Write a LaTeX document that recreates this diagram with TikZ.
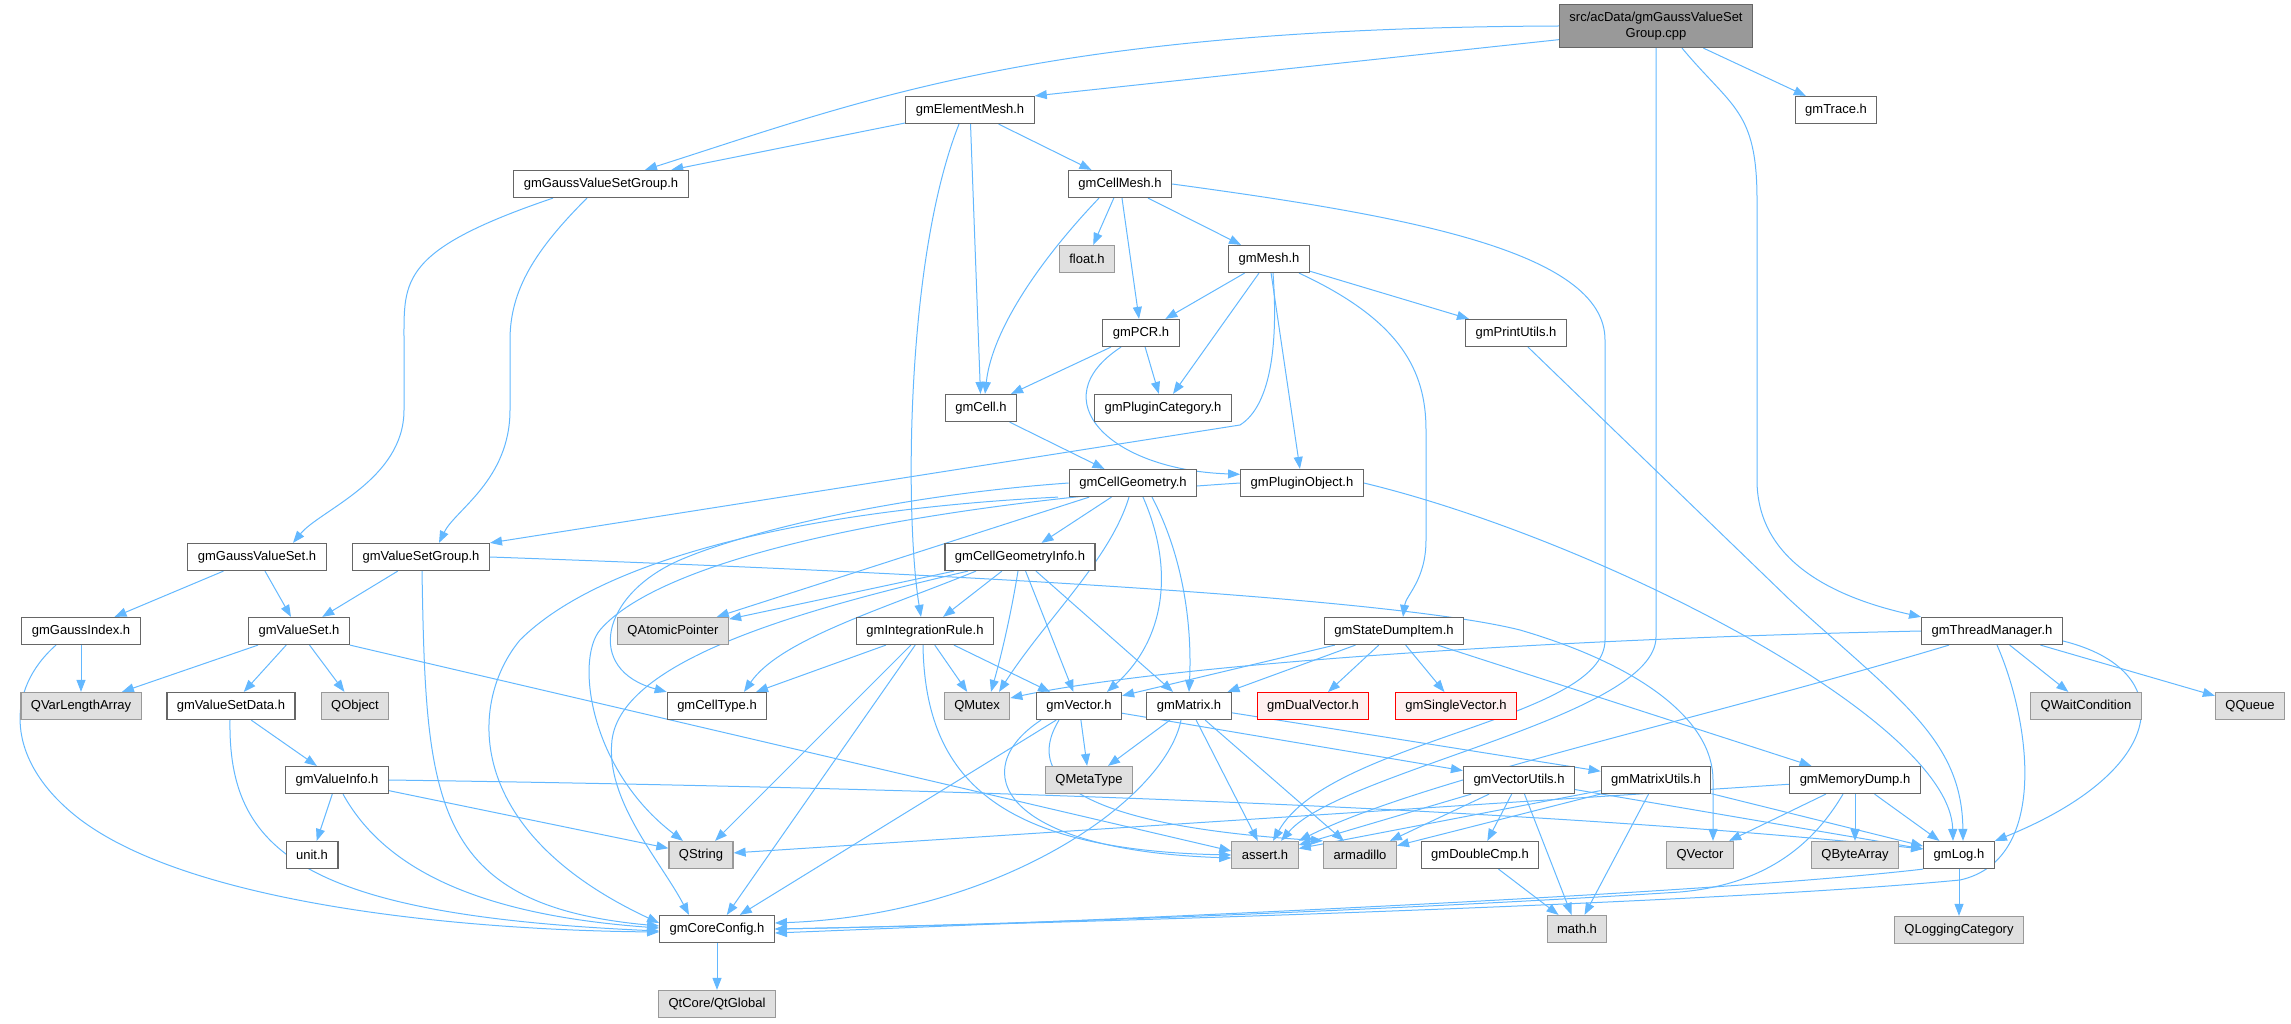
\documentclass[tikz,border=0pt]{standalone}
\usepackage{fontspec}
\setmainfont{Liberation Sans}
\usetikzlibrary{arrows.meta}
\definecolor{edgeblue}{HTML}{63B8FF}
\definecolor{boxline}{HTML}{666666}
\definecolor{extline}{HTML}{999999}
\definecolor{extfill}{HTML}{E0E0E0}
\definecolor{rootfill}{HTML}{999999}
\definecolor{missfill}{HTML}{FFF0F0}
\definecolor{missline}{HTML}{FF0000}
\pgfdeclarelayer{bg}
\pgfsetlayers{bg,main}
\tikzset{
  hdr/.style={draw=boxline, fill=white, line width=1.2pt, minimum height=27pt,
    inner xsep=10pt, inner ysep=2pt, font=\fontsize{13}{16}\selectfont},
  sys/.style={hdr, draw=extline, fill=extfill},
  rootfile/.style={hdr, fill=rootfill, align=center, minimum height=43pt},
  missing/.style={hdr, draw=missline, fill=missfill, line width=0.9pt},
  dep/.style={draw=edgeblue, line width=1pt, -{Triangle[length=12pt,width=9pt]}}
}
\begin{document}
\begin{tikzpicture}[x=1pt, y=-1pt]
\useasboundingbox (0,0) rectangle (2291,1024);
\node[rootfile] (cpp) at (1656,26) {src/acData/gmGaussValueSet\\Group.cpp};
\node[hdr] (Trace) at (1836,110) {gmTrace.h};
\node[hdr] (ElementMesh) at (970,110) {gmElementMesh.h};
\node[hdr] (GVSGroup) at (601,184) {gmGaussValueSetGroup.h};
\node[hdr] (CellMesh) at (1120,184) {gmCellMesh.h};
\node[sys] (FloatH) at (1087,259) {float.h};
\node[hdr] (Mesh) at (1269,259) {gmMesh.h};
\node[hdr] (PCR) at (1141,333) {gmPCR.h};
\node[hdr] (PrintUtils) at (1516,333) {gmPrintUtils.h};
\node[hdr] (Cell) at (981,408) {gmCell.h};
\node[hdr] (PluginCategory) at (1163,408) {gmPluginCategory.h};
\node[hdr] (CellGeometry) at (1133,483) {gmCellGeometry.h};
\node[hdr] (PluginObject) at (1302,483) {gmPluginObject.h};
\node[hdr] (GaussValueSet) at (257,557) {gmGaussValueSet.h};
\node[hdr] (ValueSetGroup) at (421,557) {gmValueSetGroup.h};
\node[hdr] (CellGeometryInfo) at (1020,557) {gmCellGeometryInfo.h};
\node[hdr] (GaussIndex) at (81,631) {gmGaussIndex.h};
\node[hdr] (ValueSet) at (299,631) {gmValueSet.h};
\node[sys] (QAtomicPointer) at (673,631) {QAtomicPointer};
\node[hdr] (IntegrationRule) at (925,631) {gmIntegrationRule.h};
\node[hdr] (StateDumpItem) at (1394,631) {gmStateDumpItem.h};
\node[hdr] (ThreadManager) at (1992,631) {gmThreadManager.h};
\node[sys] (QVarLengthArray) at (81,706) {QVarLengthArray};
\node[hdr] (ValueSetData) at (231,706) {gmValueSetData.h};
\node[sys] (QObject) at (355,706) {QObject};
\node[hdr] (CellType) at (717,706) {gmCellType.h};
\node[sys] (QMutex) at (977,706) {QMutex};
\node[hdr] (Vector) at (1079,706) {gmVector.h};
\node[hdr] (Matrix) at (1189,706) {gmMatrix.h};
\node[missing] (DualVector) at (1313,706) {gmDualVector.h};
\node[missing] (SingleVector) at (1456,706) {gmSingleVector.h};
\node[sys] (QWaitCondition) at (2086,706) {QWaitCondition};
\node[sys] (QQueue) at (2250,706) {QQueue};
\node[hdr] (ValueInfo) at (337,780) {gmValueInfo.h};
\node[sys] (QMetaType) at (1089,780) {QMetaType};
\node[hdr] (VectorUtils) at (1519,780) {gmVectorUtils.h};
\node[hdr] (MatrixUtils) at (1656,780) {gmMatrixUtils.h};
\node[hdr] (MemoryDump) at (1855,780) {gmMemoryDump.h};
\node[hdr] (UnitH) at (312,855) {unit.h};
\node[sys] (QString) at (701,855) {QString};
\node[sys] (AssertH) at (1265,855) {assert.h};
\node[sys] (Armadillo) at (1360,855) {armadillo};
\node[hdr] (DoubleCmp) at (1480,855) {gmDoubleCmp.h};
\node[sys] (QVector) at (1700,855) {QVector};
\node[sys] (QByteArray) at (1855,855) {QByteArray};
\node[hdr] (Log) at (1959,855) {gmLog.h};
\node[hdr] (CoreConfig) at (717,929) {gmCoreConfig.h};
\node[sys] (MathH) at (1577,929) {math.h};
\node[sys] (QLoggingCategory) at (1959,930) {QLoggingCategory};
\node[sys] (QtGlobal) at (717,1004) {QtCore/QtGlobal};
\begin{pgfonlayer}{bg}
\draw[dep] (cpp.west) .. controls (1040,28) and (865,100) .. ([xshift=44pt]GVSGroup.north);
\draw[dep] (cpp.188) -- (ElementMesh.north east);
\draw[dep] (cpp) -- (Trace);
\draw[dep] (cpp.south) -- (1656,637) .. controls (1656,717) and (1341,771) .. ([xshift=16pt]AssertH.north);
\draw[dep] ([xshift=26pt]cpp.south) .. controls (1732,108) and (1757,110) .. (1757,200) -- (1757,480) .. controls (1757,560) and (1832,597) .. (ThreadManager.north west);
\draw[dep] (ElementMesh) -- (GVSGroup);
\draw[dep] (ElementMesh) -- (CellMesh);
\draw[dep] (ElementMesh) -- (Cell);
\draw[dep] ([xshift=-11pt]ElementMesh.south) .. controls (905,260) and (905,520) .. ([xshift=-4pt]IntegrationRule.north);
\draw[dep] ([xshift=-48pt]GVSGroup.south) .. controls (400,250) and (404,280) .. (404,340) -- (404,410) .. controls (404,480) and (320,510) .. ([xshift=36pt]GaussValueSet.north);
\draw[dep] ([xshift=-14pt]GVSGroup.south) .. controls (535,250) and (510,290) .. (510,340) -- (510,410) .. controls (510,480) and (455,510) .. ([xshift=18pt]ValueSetGroup.north);
\draw[dep] (CellMesh) -- (FloatH);
\draw[dep] ([xshift=-21pt]CellMesh.south) .. controls (1040,260) and (992,330) .. ([xshift=4pt]Cell.north);
\draw[dep] (CellMesh) -- (PCR);
\draw[dep] (CellMesh) -- (Mesh);
\draw[dep] (CellMesh.east) .. controls (1400,215) and (1605,250) .. (1605,340) -- (1605,640) .. controls (1605,720) and (1330,740) .. ([xshift=8pt]AssertH.north);
\draw[dep] (Mesh) -- (PCR);
\draw[dep] (Mesh) -- (PluginCategory);
\draw[dep] ([xshift=4pt]Mesh.south) .. controls (1278,340) and (1272,405) .. (1240,425) -- (ValueSetGroup.north east);
\draw[dep] (Mesh) -- (PluginObject);
\draw[dep] ([xshift=30pt]Mesh.south) .. controls (1400,320) and (1426,370) .. (1426,430) -- (1426,540) .. controls (1426,580) and (1406,595) .. ([xshift=9pt]StateDumpItem.north);
\draw[dep] (Mesh) -- (PrintUtils);
\draw[dep] ([xshift=12pt]PrintUtils.south) -- (1790,600) .. controls (1900,700) and (1962,740) .. ([xshift=4pt]Log.north);
\draw[dep] (PCR) -- (Cell);
\draw[dep] (PCR) -- (PluginCategory);
\draw[dep] ([xshift=-20pt]PCR.south) .. controls (1040,400) and (1110,470) .. (PluginObject.172);
\draw[dep] (Cell) -- (CellGeometry);
\draw[dep] (PluginObject.east) .. controls (1600,540) and (1950,720) .. ([xshift=-6pt]Log.north);
\draw[dep] (PluginObject.west) .. controls (900,505) and (660,560) .. (600,630) .. controls (575,660) and (590,770) .. ([xshift=-18pt]QString.north);
\draw[dep] (CellGeometry) -- (CellGeometryInfo);
\draw[dep] (CellGeometry) -- (QAtomicPointer);
\draw[dep] (CellGeometry.west) .. controls (900,495) and (750,530) .. (680,560) .. controls (600,595) and (585,670) .. (CellType.north west);
\draw[dep] ([xshift=-4pt]CellGeometry.south) .. controls (1110,560) and (1045,620) .. ([xshift=22pt]QMutex.north);
\draw[dep] ([xshift=10pt]CellGeometry.south) .. controls (1175,570) and (1165,640) .. ([xshift=28pt]Vector.north);
\draw[dep] ([xshift=19pt]CellGeometry.south) .. controls (1185,560) and (1192,630) .. (Matrix.north);
\draw[dep] ([xshift=-75pt]CellGeometry.south) .. controls (800,510) and (600,560) .. (520,640) .. controls (470,700) and (460,830) .. ([yshift=6pt]CoreConfig.west);
\draw[dep] (CellGeometryInfo) -- (IntegrationRule);
\draw[dep] (CellGeometryInfo) -- (QAtomicPointer);
\draw[dep] ([xshift=-44pt]CellGeometryInfo.south) .. controls (880,610) and (780,640) .. ([xshift=27pt]CellType.north);
\draw[dep] ([xshift=-2pt]CellGeometryInfo.south) .. controls (1010,620) and (1000,660) .. ([xshift=14pt]QMutex.north);
\draw[dep] (CellGeometryInfo) -- (Vector);
\draw[dep] (CellGeometryInfo) -- (Matrix);
\draw[dep] ([xshift=-52pt]CellGeometryInfo.south) .. controls (800,610) and (622,660) .. (612,740) .. controls (605,800) and (660,860) .. ([xshift=-28pt]CoreConfig.north);
\draw[dep] (IntegrationRule) -- (CellType);
\draw[dep] (IntegrationRule) -- (QMutex);
\draw[dep] (IntegrationRule) -- (Vector);
\draw[dep] (IntegrationRule) -- (QString);
\draw[dep] ([xshift=-2pt]IntegrationRule.south) .. controls (925,780) and (1000,850) .. (AssertH.west);
\draw[dep] (IntegrationRule) -- (CoreConfig);
\draw[dep] (StateDumpItem) -- (Vector);
\draw[dep] (StateDumpItem) -- (Matrix);
\draw[dep] (StateDumpItem) -- (DualVector);
\draw[dep] (StateDumpItem) -- (SingleVector);
\draw[dep] (StateDumpItem) -- (MemoryDump);
\draw[dep] (ThreadManager.west) .. controls (1500,640) and (1150,668) .. ([yshift=8pt]QMutex.east);
\draw[dep] ([xshift=-43pt]ThreadManager.south) .. controls (1700,720) and (1420,780) .. (AssertH.north east);
\draw[dep] (ThreadManager) -- (QWaitCondition);
\draw[dep] (ThreadManager) -- (QQueue);
\draw[dep] (ThreadManager.-8) .. controls (2180,670) and (2170,770) .. (Log.north east);
\draw[dep] ([xshift=5pt]ThreadManager.south) .. controls (2030,720) and (2050,860) .. (1960,880) .. controls (1700,905) and (1000,925) .. (CoreConfig.east);
\draw[dep] (ValueSetGroup) -- (ValueSet);
\draw[dep] ([xshift=1pt]ValueSetGroup.south) .. controls (426,800) and (430,905) .. ([yshift=3pt]CoreConfig.west);
\draw[dep] (ValueSetGroup.east) .. controls (1000,575) and (1400,600) .. (1520,630) .. controls (1640,665) and (1713,720) .. (1713,780) -- ([xshift=13pt]QVector.north);
\draw[dep] (GaussValueSet) -- (GaussIndex);
\draw[dep] (GaussValueSet) -- (ValueSet);
\draw[dep] (GaussIndex) -- (QVarLengthArray);
\draw[dep] ([xshift=-25pt]GaussIndex.south) .. controls (5,690) and (5,760) .. (77,817) .. controls (185,902) and (450,930) .. ([yshift=-3pt]CoreConfig.west);
\draw[dep] (ValueSet) -- (QVarLengthArray);
\draw[dep] (ValueSet) -- (ValueSetData);
\draw[dep] (ValueSet) -- (QObject);
\draw[dep] (ValueSet.south east) -- ([yshift=4pt]AssertH.west);
\draw[dep] (ValueSetData) -- (ValueInfo);
\draw[dep] ([xshift=-1pt]ValueSetData.south) .. controls (228,850) and (300,915) .. ([yshift=-2pt]CoreConfig.west);
\draw[dep] (ValueInfo) -- (UnitH);
\draw[dep] (ValueInfo) -- (QString);
\draw[dep] (ValueInfo.east) .. controls (1100,790) and (1600,815) .. ([yshift=6pt]Log.west);
\draw[dep] ([xshift=6pt]ValueInfo.south) .. controls (385,870) and (480,915) .. ([yshift=1pt]CoreConfig.west);
\draw[dep] (Vector) -- (QMetaType);
\draw[dep] (Vector) -- (VectorUtils);
\draw[dep] ([xshift=-38pt]Vector.south) .. controls (965,770) and (1000,850) .. ([yshift=-3pt]AssertH.west);
\draw[dep] ([xshift=-20pt]Vector.south) .. controls (1010,800) and (1150,830) .. (Armadillo.north west);
\draw[dep] (Vector) -- (CoreConfig);
\draw[dep] (Matrix) -- (QMetaType);
\draw[dep] (Matrix) -- (MatrixUtils);
\draw[dep] (Matrix) -- (AssertH);
\draw[dep] (Matrix) -- (Armadillo);
\draw[dep] ([xshift=-8pt]Matrix.south) .. controls (1165,800) and (1000,915) .. ([yshift=6pt]CoreConfig.east);
\draw[dep] (VectorUtils) -- (AssertH);
\draw[dep] (VectorUtils) -- (Armadillo);
\draw[dep] (VectorUtils) -- (DoubleCmp);
\draw[dep] (VectorUtils) -- (MathH);
\draw[dep] (VectorUtils) -- (Log);
\draw[dep] (MatrixUtils) -- (AssertH);
\draw[dep] (MatrixUtils) -- (Armadillo);
\draw[dep] (MatrixUtils) -- (MathH);
\draw[dep] (MatrixUtils) -- (Log);
\draw[dep] (MemoryDump) -- (QString);
\draw[dep] (MemoryDump) -- (QVector);
\draw[dep] (MemoryDump) -- (QByteArray);
\draw[dep] (MemoryDump) -- (Log);
\draw[dep] ([xshift=-12pt]MemoryDump.south) .. controls (1810,850) and (1760,885) .. (1680,892) .. controls (1400,910) and (1000,925) .. (CoreConfig.east);
\draw[dep] (DoubleCmp) -- (MathH);
\draw[dep] (Log) -- (QLoggingCategory);
\draw[dep] (Log.south west) .. controls (1700,895) and (1100,920) .. ([yshift=-4pt]CoreConfig.east);
\draw[dep] (CoreConfig) -- (QtGlobal);
\end{pgfonlayer}
\end{tikzpicture}
\end{document}
